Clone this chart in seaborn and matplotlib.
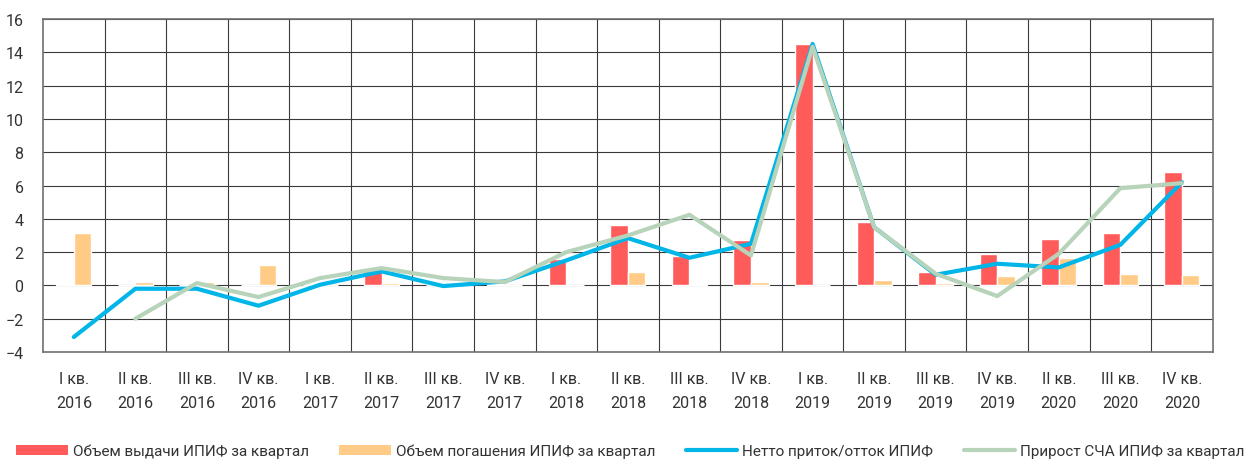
import pandas as pd
import numpy as np
import matplotlib
matplotlib.use("Agg")
import matplotlib.pyplot as plt
from matplotlib.lines import Line2D
import seaborn as sns

# quarters on the x axis (I кв. 2020 is absent in the source chart)
quarters = ["I кв.\n2016", "II кв.\n2016", "III кв.\n2016", "IV кв.\n2016",
            "I кв.\n2017", "II кв.\n2017", "III кв.\n2017", "IV кв.\n2017",
            "I кв.\n2018", "II кв.\n2018", "III кв.\n2018", "IV кв.\n2018",
            "I кв.\n2019", "II кв.\n2019", "III кв.\n2019", "IV кв.\n2019",
            "II кв.\n2020", "III кв.\n2020", "IV кв.\n2020"]

issued = [0.07, 0.03, 0.02, 0.02, 0.06, 0.98, 0.0, 0.1, 1.56, 3.6, 1.74, 2.7,
          14.5, 3.8, 0.78, 1.86, 2.78, 3.14, 6.82]
redeemed = [3.14, 0.18, 0.2, 1.24, 0.05, 0.14, 0.0, 0.05, 0.03, 0.78, 0.08, 0.2,
            0.02, 0.34, 0.14, 0.56, 1.66, 0.7, 0.62]
net_flow = [-3.1, -0.2, -0.2, -1.22, 0.04, 0.84, -0.04, 0.24, 1.5, 2.84, 1.66, 2.5,
            14.5, 3.5, 0.64, 1.3, 1.08, 2.44, 6.2]
nav_growth = [np.nan, -2.0, 0.14, -0.7, 0.44, 1.04, 0.44, 0.2, 2.0, 3.0, 4.24, 1.8,
              14.34, 3.5, 0.7, -0.64, 1.9, 5.84, 6.14]

bar_names = ["Объем выдачи ИПИФ за квартал", "Объем погашения ИПИФ за квартал"]
line_names = ["Нетто приток/отток ИПИФ", "Прирост СЧА ИПИФ за квартал"]
colors = {"red": "#ff5b5b", "orange": "#ffcb87", "blue": "#00b5e8", "green": "#b7d3ba"}

sns.set_style("white")
plt.rcParams["font.family"] = ["Roboto", "DejaVu Sans"]

bars = pd.DataFrame({
    "quarter": quarters * 2,
    "value": issued + redeemed,
    "series": [bar_names[0]] * len(quarters) + [bar_names[1]] * len(quarters),
})

fig = plt.figure(figsize=(12.51, 4.6), dpi=100)
ax = fig.add_axes([0.0344, 0.2326, 0.935, 0.7239])

sns.barplot(data=bars, x="quarter", y="value", hue="series",
            palette=[colors["red"], colors["orange"]], width=0.57,
            dodge=True, legend=False, ax=ax, saturation=1)

pos = np.arange(len(quarters))
sns.lineplot(x=pos, y=net_flow, color=colors["blue"], lw=3, ax=ax,
             solid_capstyle="round")
sns.lineplot(x=pos, y=nav_growth, color=colors["green"], lw=3, ax=ax,
             solid_capstyle="round")

ax.set_xlim(-0.5, len(quarters) - 0.5)
ax.set_ylim(-4, 16)
ax.set_yticks(range(-4, 17, 2))
ax.set_xticks(pos)
ax.set_xticklabels(quarters, fontsize=11.5, color="#333333", linespacing=1.7)
ax.tick_params(axis="y", labelsize=11.5, labelcolor="#333333", length=0, pad=14)
ax.tick_params(axis="x", length=0, pad=14)
ax.set_xlabel("")
ax.set_ylabel("")

# grid lines, including category boundaries
for y in range(-4, 17, 2):
    ax.axhline(y, color="#3a3a3a", lw=0.8, zorder=0)
for x in np.arange(0.5, len(quarters) - 0.5, 1):
    ax.axvline(x, color="#3a3a3a", lw=0.8, zorder=0)
for s in ax.spines.values():
    s.set_color("#707070")
    s.set_linewidth(1.2)

handles = [Line2D([], [], color=colors["red"], lw=7.2, solid_capstyle="butt"),
           Line2D([], [], color=colors["orange"], lw=7.2, solid_capstyle="butt"),
           Line2D([], [], color=colors["blue"], lw=3, solid_capstyle="round"),
           Line2D([], [], color=colors["green"], lw=3, solid_capstyle="round")]
fig.legend(handles, bar_names + line_names, loc="center left",
           bbox_to_anchor=(16 / 1251, 1 - 452 / 460), ncol=4, frameon=False,
           fontsize=11, borderpad=0, borderaxespad=0,
           handlelength=3.4, handletextpad=0.3, columnspacing=2.0,
           labelcolor="#333333")

fig.savefig("out.png", dpi=100)
